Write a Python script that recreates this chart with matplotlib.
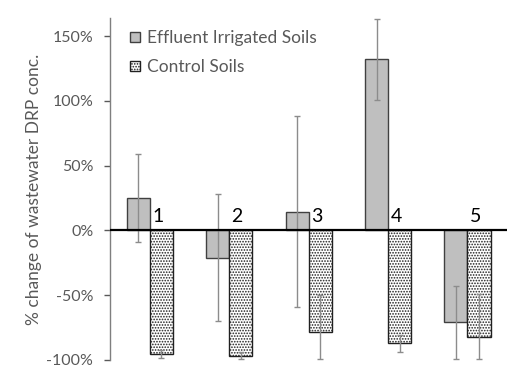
import matplotlib
matplotlib.use("Agg")
import matplotlib.pyplot as plt
import numpy as np

plt.rcParams['font.family'] = ['Lato', 'DejaVu Sans']
plt.rcParams['hatch.linewidth'] = 0.8

groups = ["1", "2", "3", "4", "5"]
effluent = [25, -21, 14, 132, -71]
effluent_err_low = [34, 49, 73, 31, 28]
effluent_err_high = [34, 49, 74, 31, 28]
control = [-95.5, -97, -78.5, -87, -82]
control_err_low = [3, 2, 21, 7, 17]
control_err_high = [3, 3, 29, 6, 33]

fig = plt.figure(figsize=(5.30, 3.82), dpi=100)
ax = fig.add_axes([0.2075, 0.0576, 0.7495, 0.8954])

x = np.arange(len(groups)) + 0.5
w = 0.29
grey = '#595959'

ax.bar(x - w/2, effluent, w, color='#bfbfbf', edgecolor='#404040', linewidth=1.0,
       label='Effluent Irrigated Soils', zorder=2)
ax.bar(x + w/2, control, w, color='white', edgecolor='#202020', linewidth=1.0,
       hatch='......', label='Control Soils', zorder=2)
ax.errorbar(x - w/2, effluent, yerr=[effluent_err_low, effluent_err_high], fmt='none',
            ecolor='#8c8c8c', elinewidth=1.0, capsize=2.5, capthick=1.0, zorder=3)
ax.errorbar(x + w/2, control, yerr=[control_err_low, control_err_high], fmt='none',
            ecolor='#8c8c8c', elinewidth=1.0, capsize=2.5, capthick=1.0, zorder=3)

ax.axhline(0, color='black', linewidth=1.6, zorder=4)

for xi, g in zip(x, groups):
    ax.text(xi + 0.1, 4, g, fontsize=14, color='black', ha='center', va='bottom', zorder=5)

ax.set_xlim(0, len(groups))
ax.set_ylim(-100, 164)
ax.set_yticks([-100, -50, 0, 50, 100, 150])
ax.set_yticklabels(['-100%', '-50%', '0%', '50%', '100%', '150%'])
ax.set_xticks([])
ax.tick_params(axis='y', colors=grey, labelsize=11.5, length=4, width=1, direction='out', pad=8)
for s in ['top', 'right', 'bottom']:
    ax.spines[s].set_visible(False)
ax.spines['left'].set_color('#7f7f7f')
ax.spines['left'].set_linewidth(1.0)

ax.set_ylabel('% change of wastewater DRP conc.', fontsize=12.5, color=grey, labelpad=3)

leg = ax.legend(loc='upper left', bbox_to_anchor=(0.012, 1.01), frameon=False, fontsize=12.5,
                handlelength=0.58, handleheight=0.58, handletextpad=0.4, labelspacing=0.75)
for t in leg.get_texts():
    t.set_color(grey)

fig.savefig('out.png', dpi=100)
